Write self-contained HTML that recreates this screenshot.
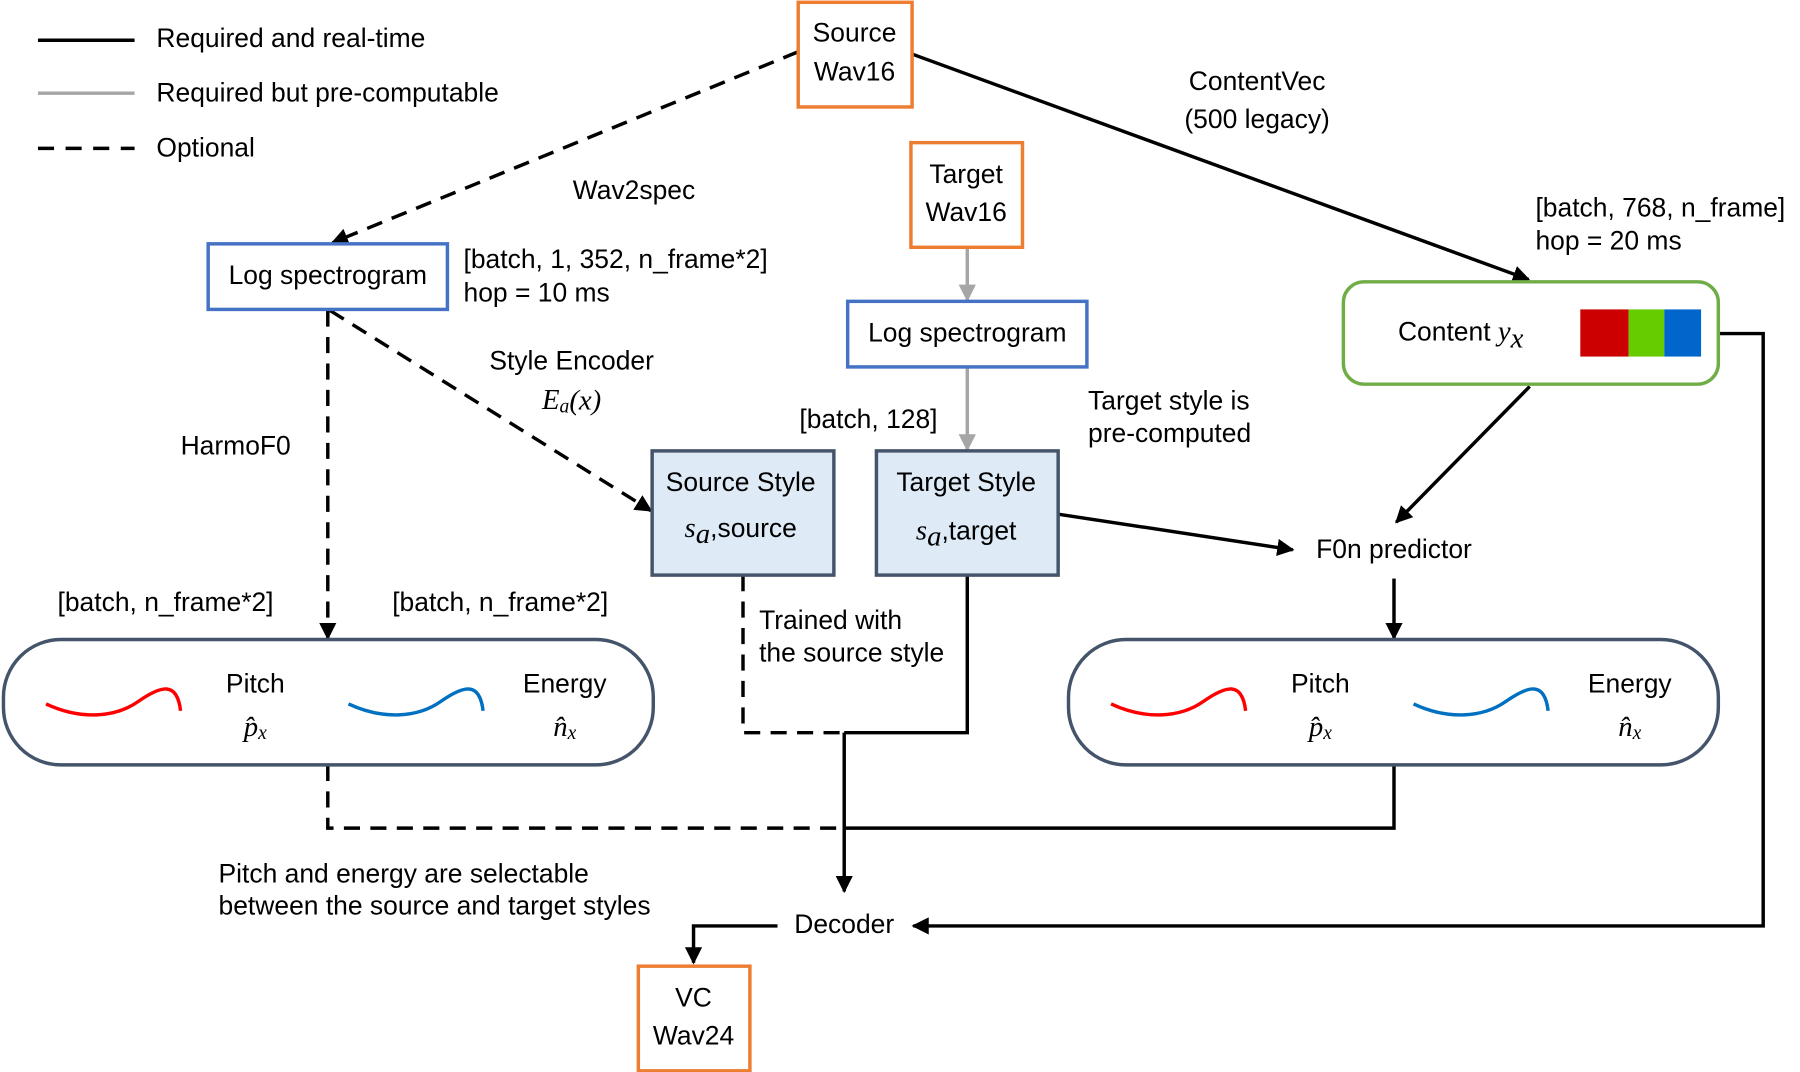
<!DOCTYPE html>
<html><head><meta charset="utf-8"><style>
html,body{margin:0;padding:0;background:#fff;}
svg{display:block;}
text{font-family:"Liberation Sans",sans-serif;font-size:23px;fill:#000;dominant-baseline:middle;}
.m{font-family:"Liberation Serif",serif;font-style:italic;font-size:25px;}
</style></head><body>
<svg width="1800" height="1072" viewBox="0 0 1565 932" preserveAspectRatio="none" xmlns="http://www.w3.org/2000/svg">
<defs>
<marker id="a" viewBox="0 0 10 10" refX="9" refY="5" markerWidth="5" markerHeight="5" orient="auto-start-reverse"><path d="M0 0L10 5L0 10z" fill="#000"/></marker>
<marker id="g" viewBox="0 0 10 10" refX="9" refY="5" markerWidth="5" markerHeight="5" orient="auto"><path d="M0 0L10 5L0 10z" fill="#a6a6a6"/></marker>
</defs>
<line x1="33" y1="35" x2="117" y2="35" stroke="#000" stroke-width="3"/>
<line x1="33" y1="81" x2="117" y2="81" stroke="#a6a6a6" stroke-width="3"/>
<line x1="33" y1="129" x2="117" y2="129" stroke="#000" stroke-width="3" stroke-dasharray="14,10"/>
<text x="136" y="35">Required and real-time</text>
<text x="136" y="82">Required but pre-computable</text>
<text x="136" y="130">Optional</text>

<g fill="none" stroke-width="3">
<line x1="694" y1="45" x2="289" y2="211" stroke="#000" stroke-dasharray="14,9" marker-end="url(#a)"/>
<line x1="793" y1="47" x2="1329" y2="243" stroke="#000" marker-end="url(#a)"/>
<line x1="841" y1="215" x2="841" y2="261" stroke="#a6a6a6" marker-end="url(#g)"/>
<line x1="841" y1="319" x2="841" y2="391" stroke="#a6a6a6" marker-end="url(#g)"/>
<line x1="287" y1="270" x2="566" y2="444" stroke="#000" stroke-dasharray="14,9" marker-end="url(#a)"/>
<line x1="285" y1="270" x2="285" y2="555" stroke="#000" stroke-dasharray="14,9" marker-end="url(#a)"/>
<line x1="920" y1="447" x2="1124" y2="478" stroke="#000" marker-end="url(#a)"/>
<line x1="1330" y1="336" x2="1214" y2="454" stroke="#000" marker-end="url(#a)"/>
<line x1="1212" y1="503" x2="1212" y2="555" stroke="#000" marker-end="url(#a)"/>
<polyline points="1212,665 1212,720 734,720" stroke="#000"/>
<polyline points="285,665 285,720 734,720" stroke="#000" stroke-dasharray="14,9"/>
<polyline points="646,500 646,637 734,637" stroke="#000" stroke-dasharray="14,9"/>
<polyline points="841,500 841,637 734,637" stroke="#000"/>
<line x1="734" y1="637" x2="734" y2="775" stroke="#000" marker-end="url(#a)"/>
<polyline points="1494,290 1533,290 1533,805 794,805" stroke="#000" marker-end="url(#a)"/>
<polyline points="676,805 603,805 603,837" stroke="#000" marker-end="url(#a)"/>
<rect x="694" y="2" width="99" height="91" stroke="#ED7D31"/>
<rect x="792" y="124" width="97" height="91" stroke="#ED7D31"/>
<rect x="555" y="840" width="97" height="91" stroke="#ED7D31"/>
<rect x="181" y="212" width="208" height="57" stroke="#4472C4"/>
<rect x="737" y="262" width="208" height="57" stroke="#4472C4"/>
<rect x="1168" y="245" width="326" height="89" rx="18" stroke="#70AD47" fill="#fff"/>
<rect x="567" y="392" width="158" height="108" stroke="#44546A" fill="#DEEBF7"/>
<rect x="762" y="392" width="158" height="108" stroke="#44546A" fill="#DEEBF7"/>
<rect x="3" y="556" width="565" height="109" rx="50" stroke="#44546A" fill="#fff"/>
<rect x="929" y="556" width="565" height="109" rx="50" stroke="#44546A" fill="#fff"/>
<path d="M40 612 C70 626,100 624,120 610 S154 592,157 618" stroke="#FF0000"/>
<path d="M303 612 C333 626,363 624,383 610 S417 592,420 618" stroke="#0070C0"/>
<path d="M966 612 C996 626,1026 624,1046 610 S1080 592,1083 618" stroke="#FF0000"/>
<path d="M1229 612 C1259 626,1289 624,1309 610 S1343 592,1346 618" stroke="#0070C0"/>
</g>
<rect x="1374" y="269" width="42" height="41" fill="#CC0000"/>
<rect x="1416" y="269" width="31" height="41" fill="#66CC00"/>
<rect x="1447" y="269" width="32" height="41" fill="#0066CC"/>

<g text-anchor="middle">
<text x="743" y="30">Source</text><text x="743" y="64">Wav16</text>
<text x="840" y="153">Target</text><text x="840" y="186">Wav16</text>
<text x="603" y="869">VC</text><text x="603" y="902">Wav24</text>
<text x="285" y="241">Log spectrogram</text>
<text x="841" y="291">Log spectrogram</text>
<text x="1270" y="290">Content <tspan class="m">y</tspan><tspan class="m" font-size="17" dy="6">x</tspan></text>
<text x="644" y="421">Source Style</text>
<text x="644" y="461"><tspan class="m">s</tspan><tspan class="m" font-size="17" dy="5">a</tspan><tspan dy="-5">,source</tspan></text>
<text x="840" y="421">Target Style</text>
<text x="840" y="463"><tspan class="m">s</tspan><tspan class="m" font-size="17" dy="5">a</tspan><tspan dy="-5">,target</tspan></text>
<text x="1212" y="479">F0n predictor</text>
<text x="734" y="805">Decoder</text>
<text x="222" y="596">Pitch</text><text x="222" y="634" class="m">p̂<tspan font-size="17" dy="5">x</tspan></text>
<text x="491" y="596">Energy</text><text x="491" y="634" class="m">n̂<tspan font-size="17" dy="5">x</tspan></text>
<text x="1148" y="596">Pitch</text><text x="1148" y="634" class="m">p̂<tspan font-size="17" dy="5">x</tspan></text>
<text x="1417" y="596">Energy</text><text x="1417" y="634" class="m">n̂<tspan font-size="17" dy="5">x</tspan></text>
<text x="1093" y="72">ContentVec</text><text x="1093" y="105">(500 legacy)</text>
<text x="497" y="315">Style Encoder</text>
<text x="497" y="350" class="m">E<tspan font-size="17" dy="5">a</tspan><tspan dy="-5">(x)</tspan></text>
</g>
<text x="498" y="167">Wav2spec</text>
<text x="1335" y="182">[batch, 768, n_frame]</text>
<text x="1335" y="211">hop = 20 ms</text>
<text x="403" y="227">[batch, 1, 352, n_frame*2]</text>
<text x="403" y="256">hop = 10 ms</text>
<text x="157" y="389">HarmoF0</text>
<text x="695" y="366">[batch, 128]</text>
<text x="946" y="350">Target style is</text>
<text x="946" y="378">pre-computed</text>
<text x="50" y="525">[batch, n_frame*2]</text>
<text x="341" y="525">[batch, n_frame*2]</text>
<text x="660" y="541">Trained with</text>
<text x="660" y="569">the source style</text>
<text x="190" y="761">Pitch and energy are selectable</text>
<text x="190" y="789">between the source and target styles</text>
</svg>
</body></html>
